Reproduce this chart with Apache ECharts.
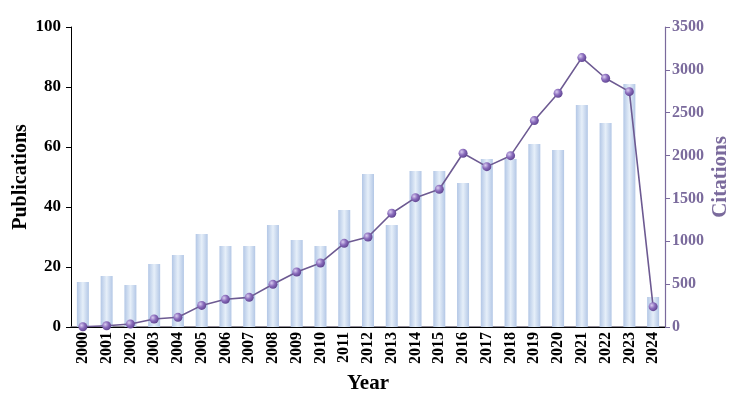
<!DOCTYPE html>
<html>
<head>
<meta charset="utf-8">
<script src="https://cdn.jsdelivr.net/npm/echarts@6/dist/echarts.min.js"></script>
<style>
  html, body { margin: 0; padding: 0; background: #fff; }
  #main { width: 742px; height: 399px; }
</style>
</head>
<body>
<div id="main"></div>
<script>
  // data
  var years = ['2000', '2001', '2002', '2003', '2004', '2005', '2006', '2007', '2008', '2009',
    '2010', '2011', '2012', '2013', '2014', '2015', '2016', '2017', '2018', '2019',
    '2020', '2021', '2022', '2023', '2024'];
  var publications = [15, 17, 14, 21, 24, 31, 27, 27, 34, 29,
    27, 39, 51, 34, 52, 52, 48, 56, 56, 61,
    59, 74, 68, 81, 10];
  var citations = [3, 14, 35, 93, 113, 252, 323, 346, 498, 642,
    747, 976, 1050, 1327, 1509, 1607, 2027, 1871, 1999, 2408,
    2727, 3143, 2902, 2746, 237];

  var purple = '#7a6a9c';
  var serif = '"Liberation Serif", "Times New Roman", serif';

  var chart = echarts.init(document.getElementById('main'));
  var option = {
    animation: false,
    backgroundColor: '#fff',
    grid: { left: 71, right: 77, top: 27, bottom: 72, containLabel: false, outerBoundsMode: 'none' },
    xAxis: [{
      type: 'category',
      data: years,
      name: 'Year',
      nameLocation: 'middle',
      nameGap: 46,
      nameMoveOverlap: false,
      nameTextStyle: { fontFamily: serif, fontWeight: 'bold', fontSize: 21, color: '#000' },
      axisLine: { lineStyle: { color: '#6e6878', width: 1.5 } },
      axisTick: { show: false },
      axisLabel: {
        rotate: 90, margin: 5, interval: 0,
        fontFamily: serif, fontWeight: 'bold', fontSize: 16, color: '#000'
      }
    }, {
      type: 'category',
      data: years,
      position: 'top',
      axisLine: { lineStyle: { color: '#000', width: 1 } },
      axisTick: { show: false },
      axisLabel: { show: false }
    }],
    yAxis: [{
      type: 'value',
      min: 0, max: 100, interval: 20,
      name: 'Publications',
      nameLocation: 'middle',
      nameGap: 40,
      nameMoveOverlap: false,
      nameTextStyle: { fontFamily: serif, fontWeight: 'bold', fontSize: 20, color: '#000' },
      axisLine: { show: true, lineStyle: { color: '#000', width: 1 } },
      axisTick: { show: true, length: 5, lineStyle: { color: '#000' } },
      axisLabel: { margin: 10, fontFamily: serif, fontWeight: 'bold', fontSize: 17, color: '#000' },
      splitLine: { show: false }
    }, {
      type: 'value',
      min: 0, max: 3500, interval: 500,
      position: 'right',
      name: 'Citations',
      nameLocation: 'middle',
      nameGap: 45,
      nameRotate: 90,
      nameMoveOverlap: false,
      nameTextStyle: { fontFamily: serif, fontWeight: 'bold', fontSize: 21, color: purple },
      axisLine: { show: true, lineStyle: { color: purple, width: 1.2 } },
      axisTick: { show: true, length: 5, lineStyle: { color: purple } },
      axisLabel: {
        margin: 7, fontFamily: serif, fontWeight: 'bold', fontSize: 16, color: purple,
        formatter: function (v) { return String(v); }
      },
      splitLine: { show: false }
    }],
    series: [{
      name: 'Publications',
      type: 'bar',
      data: publications,
      barWidth: 12,
      itemStyle: {
        color: new echarts.graphic.LinearGradient(0, 0, 1, 0, [
          { offset: 0, color: '#b3c7e6' },
          { offset: 0.5, color: '#e6eff9' },
          { offset: 1, color: '#b3c7e6' }
        ])
      }
    }, {
      name: 'Citations',
      type: 'line',
      yAxisIndex: 1,
      data: citations,
      symbol: 'circle',
      symbolSize: 9,
      z: 5,
      lineStyle: { color: '#6d5a92', width: 1.6 },
      itemStyle: {
        color: new echarts.graphic.RadialGradient(0.35, 0.35, 0.7, [
          { offset: 0, color: '#d9cdf0' },
          { offset: 0.5, color: '#8a6cbc' },
          { offset: 1, color: '#5e4390' }
        ])
      }
    }]
  };
  chart.setOption(option);
</script>
</body>
</html>
